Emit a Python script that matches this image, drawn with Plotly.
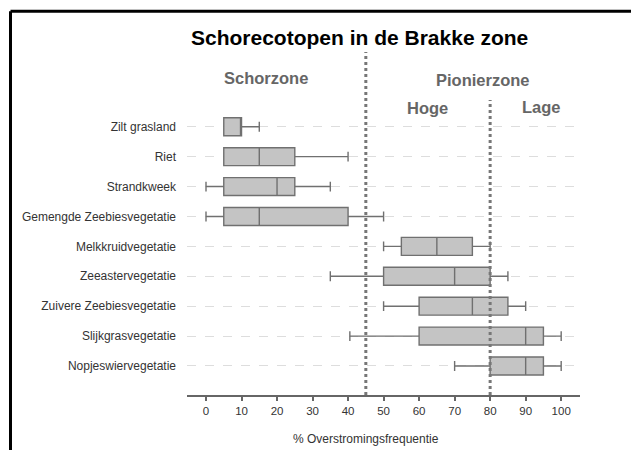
import plotly.graph_objects as go

categories = ["Zilt grasland", "Riet", "Strandkweek", "Gemengde Zeebiesvegetatie",
              "Melkkruidvegetatie", "Zeeastervegetatie", "Zuivere Zeebiesvegetatie",
              "Slijkgrasvegetatie", "Nopjeswiervegetatie"]
lower_whisker = [5, 5, 0, 0, 50, 35, 50, 40.5, 70]
q1_values = [5, 5, 5, 5, 55, 50, 60, 60, 80]
median_values = [10, 15, 20, 15, 65, 70, 75, 90, 90]
q3_values = [10, 25, 25, 40, 75, 80, 85, 95, 95]
upper_whisker = [15, 40, 35, 50, 80, 85, 90, 100, 100]
x_ticks = [0, 10, 20, 30, 40, 50, 60, 70, 80, 90, 100]
zone_boundaries = [45, 80]

W, H = 631, 450
# plot area in page pixels: x 187..580, y 52..395
L = 187
R = W - 580
T = 52
B = H - 395
PW, PH = W - L - R, H - T - B


def px_to_paper_x(px):
    return (px - L) / PW


def px_to_paper_y(py):
    return (H - B - py) / PH


fig = go.Figure()
fig.add_trace(go.Box(
    y=categories,
    q1=q1_values, median=median_values, q3=q3_values,
    lowerfence=lower_whisker, upperfence=upper_whisker,
    orientation="h",
    fillcolor="#c4c4c4",
    line=dict(color="#707070", width=1.4),
    whiskerwidth=0.55,
    width=0.6,
    boxpoints=False,
    showlegend=False,
    hoverinfo="skip",
))

shapes = []
# zone boundaries (dotted)
shapes.append(dict(type="line", xref="x", yref="paper", x0=zone_boundaries[0], x1=zone_boundaries[0],
                   y0=0, y1=1, line=dict(color="#777777", width=3, dash="dot"), layer="above"))
shapes.append(dict(type="line", xref="x", yref="paper", x0=zone_boundaries[1], x1=zone_boundaries[1],
                   y0=0, y1=px_to_paper_y(100), line=dict(color="#777777", width=3, dash="dot"), layer="above"))
# frame (black border left and top)
bx = px_to_paper_x(10.5)
by = px_to_paper_y(11.2)
shapes.append(dict(type="line", xref="paper", yref="paper", x0=bx, x1=bx, y0=px_to_paper_y(470), y1=by,
                   line=dict(color="black", width=3), layer="above"))
shapes.append(dict(type="line", xref="paper", yref="paper", x0=bx, x1=px_to_paper_x(660), y0=by, y1=by,
                   line=dict(color="black", width=3), layer="above"))

zone_font = dict(family="Liberation Sans, Arial", size=16.5, color="#666666")
annotations = [
    dict(text="<b>Schorecotopen in de Brakke zone</b>", xref="paper", yref="paper",
         x=px_to_paper_x(359.5), y=px_to_paper_y(37), showarrow=False, xanchor="center", yanchor="middle",
         font=dict(family="Liberation Sans, Arial", size=21, color="black")),
    dict(text="<b>Schorzone</b>", xref="paper", yref="paper",
         x=px_to_paper_x(265.7), y=px_to_paper_y(78), showarrow=False, xanchor="center", yanchor="middle",
         font=zone_font),
    dict(text="<b>Pionierzone</b>", xref="paper", yref="paper",
         x=px_to_paper_x(483), y=px_to_paper_y(80), showarrow=False, xanchor="center", yanchor="middle",
         font=zone_font),
    dict(text="<b>Hoge</b>", xref="paper", yref="paper",
         x=px_to_paper_x(427.5), y=px_to_paper_y(108), showarrow=False, xanchor="center", yanchor="middle",
         font=zone_font),
    dict(text="<b>Lage</b>", xref="paper", yref="paper",
         x=px_to_paper_x(541), y=px_to_paper_y(106.7), showarrow=False, xanchor="center", yanchor="middle",
         font=zone_font),
    dict(text="% Overstromingsfrequentie", xref="paper", yref="paper",
         x=px_to_paper_x(366), y=px_to_paper_y(439), showarrow=False, xanchor="center", yanchor="middle",
         font=dict(family="Liberation Sans, Arial", size=12, color="#333333")),
]

fig.update_layout(
    width=W, height=H,
    margin=dict(l=L, r=R, t=T, b=B, pad=0),
    paper_bgcolor="white", plot_bgcolor="white",
    shapes=shapes, annotations=annotations,
    font=dict(family="Liberation Sans, Arial", color="#333333"),
)
fig.update_xaxes(
    range=[-5.35, 105.3], tickvals=x_ticks, ticktext=[str(v) for v in x_ticks],
    showgrid=False, zeroline=False,
    showline=True, linecolor="#666666", linewidth=2,
    ticks="outside", ticklen=4, tickcolor="#666666", tickwidth=1.5,
    tickfont=dict(size=11.5, color="#333333"),
)
fig.update_yaxes(
    type="category", categoryorder="array", categoryarray=categories,
    range=[8.97, -2.5],
    showgrid=True, gridcolor="#dddddd", griddash="dash", gridwidth=1,
    zeroline=False, showline=False, ticks="",
    tickfont=dict(size=12, color="#333333"),
    ticklabelstandoff=10,
)

fig.write_html(
    "out.html",
    config={"displayModeBar": False},
    post_script="document.body.style.margin='0';document.body.style.overflow='hidden';",
)
